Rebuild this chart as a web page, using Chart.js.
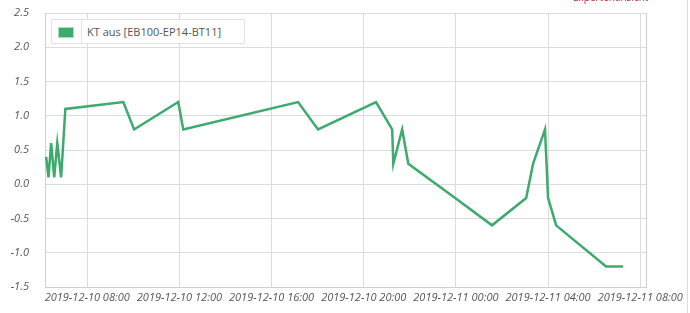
<!DOCTYPE html>
<html>
<head>
<meta charset="utf-8">
<script src="https://cdn.jsdelivr.net/npm/chart.js@4/dist/chart.umd.min.js"></script>
<style>
  html, body { margin: 0; padding: 0; background: #fff; overflow: hidden; }
  #wrap { position: relative; width: 690px; height: 313px; }
  #legend {
    position: absolute; left: 51px; top: 19px; width: 194px; height: 25px;
    border: 1px solid #e2e2e2; background: #fff; box-sizing: border-box;
    font-family: "Open Sans", sans-serif; font-size: 11px; color: #555;
  }
  #legend .sw {
    position: absolute; left: 6px; top: 7px; width: 14px; height: 9px;
    background: #3cab6c; border: 1px solid #a9dcbd;
  }
  #legend .sep { position: absolute; left: 29px; top: 0; width: 1px; height: 23px; background: #e6e6e6; }
  #legend .txt { position: absolute; left: 35px; top: 4px; white-space: nowrap; }
  #corner {
    position: absolute; left: 573px; top: -10px;
    font-family: "Open Sans", sans-serif; font-size: 10px; color: #b03030;
  }
  #edge { position: absolute; left: 687px; top: 0; width: 1px; height: 313px; background: #ddd; }
</style>
</head>
<body>
<div id="wrap">
  <canvas id="chart" width="690" height="313"></canvas>
  <div id="legend"><div class="sw"></div><div class="sep"></div><div class="txt">KT aus [EB100-EP14-BT11]</div></div>
  <div id="corner">Expertenansicht</div>
  <div id="edge"></div>
</div>
<script>
const times = [
  "2019-12-10 06:13", "2019-12-10 06:19", "2019-12-10 06:26", "2019-12-10 06:34",
  "2019-12-10 06:42", "2019-12-10 06:52", "2019-12-10 07:03", "2019-12-10 09:34",
  "2019-12-10 10:02", "2019-12-10 11:57", "2019-12-10 12:10", "2019-12-10 17:09",
  "2019-12-10 18:01", "2019-12-10 20:32", "2019-12-10 21:14", "2019-12-10 21:17",
  "2019-12-10 21:40", "2019-12-10 21:56", "2019-12-10 23:58", "2019-12-11 01:34",
  "2019-12-11 03:03", "2019-12-11 03:21", "2019-12-11 03:52", "2019-12-11 04:00",
  "2019-12-11 04:21", "2019-12-11 06:31", "2019-12-11 07:15"
];
const ktAus = [
  0.4, 0.1, 0.6, 0.1, 0.6, 0.1, 1.1, 1.2,
  0.8, 1.2, 0.8, 1.2, 0.8, 1.2, 0.8, 0.3,
  0.8, 0.3, -0.2, -0.6, -0.2, 0.3, 0.8, -0.2,
  -0.6, -1.2, -1.2
];
const xMin = "2019-12-10 06:10";
const xMax = "2019-12-11 08:15";
const yTicks = [2.5, 2.0, 1.5, 1.0, 0.5, 0.0, -0.5, -1.0, -1.5];

// hours since 2019-12-10 00:00
function toHours(s) {
  const day = parseInt(s.slice(8, 10), 10) - 10;
  const h = parseInt(s.slice(11, 13), 10);
  const m = parseInt(s.slice(14, 16), 10);
  return day * 24 + h + m / 60;
}

function pad(n) { return (n < 10 ? "0" : "") + n; }

function fmtHours(v) {
  const day = 10 + Math.floor(v / 24);
  const h = Math.round(v - Math.floor(v / 24) * 24);
  return "2019-12-" + pad(day) + " " + pad(h) + ":00";
}

const points = times.map((t, i) => ({ x: toHours(t), y: ktAus[i] }));

const rightBorder = {
  id: "rightBorder",
  afterDraw(chart) {
    const a = chart.chartArea;
    const ctx = chart.ctx;
    ctx.save();
    ctx.strokeStyle = "#cfcfcf";
    ctx.lineWidth = 1;
    ctx.beginPath();
    ctx.moveTo(a.right + 0.5, a.top);
    ctx.lineTo(a.right + 0.5, a.bottom);
    ctx.stroke();
    ctx.restore();
  }
};

const tickFont = { family: "'Open Sans', sans-serif", size: 11, style: "italic" };

new Chart(document.getElementById("chart").getContext("2d"), {
  type: "line",
  data: {
    datasets: [
      {
        label: "KT aus [EB100-EP14-BT11]",
        data: points,
        borderColor: "#3daa6e",
        borderWidth: 2.5,
        pointRadius: 0,
        tension: 0,
        fill: false,
      },
    ],
  },
  options: {
    responsive: false,
    animation: false,
    layout: { padding: { top: 13, right: 44, left: 0, bottom: 0 } },
    plugins: {
      legend: { display: false },
      tooltip: { enabled: false },
    },
    scales: {
      x: {
        type: "linear",
        min: toHours(xMin),
        max: toHours(xMax),
        afterFit: (s) => { s.height = 26; },
        grid: { color: "#dcdcdc", drawTicks: false },
        border: { color: "#cfcfcf" },
        ticks: {
          stepSize: 4,
          includeBounds: false,
          maxRotation: 0,
          autoSkip: false,
          padding: 4,
          color: "#555",
          font: tickFont,
          callback: (v) => fmtHours(v),
        },
      },
      y: {
        min: -1.5,
        max: 2.5,
        afterFit: (s) => { s.width = 45; s.paddingTop = 0; s.paddingBottom = 0; },
        afterBuildTicks: (s) => { s.ticks = yTicks.map((v) => ({ value: v })); },
        grid: { color: "#dcdcdc", drawTicks: false },
        border: { color: "#cfcfcf" },
        ticks: {
          padding: 16,
          color: "#555",
          font: tickFont,
          callback: (v) => v.toFixed(1),
        },
      },
    },
  },
  plugins: [rightBorder],
});
</script>
</body>
</html>
